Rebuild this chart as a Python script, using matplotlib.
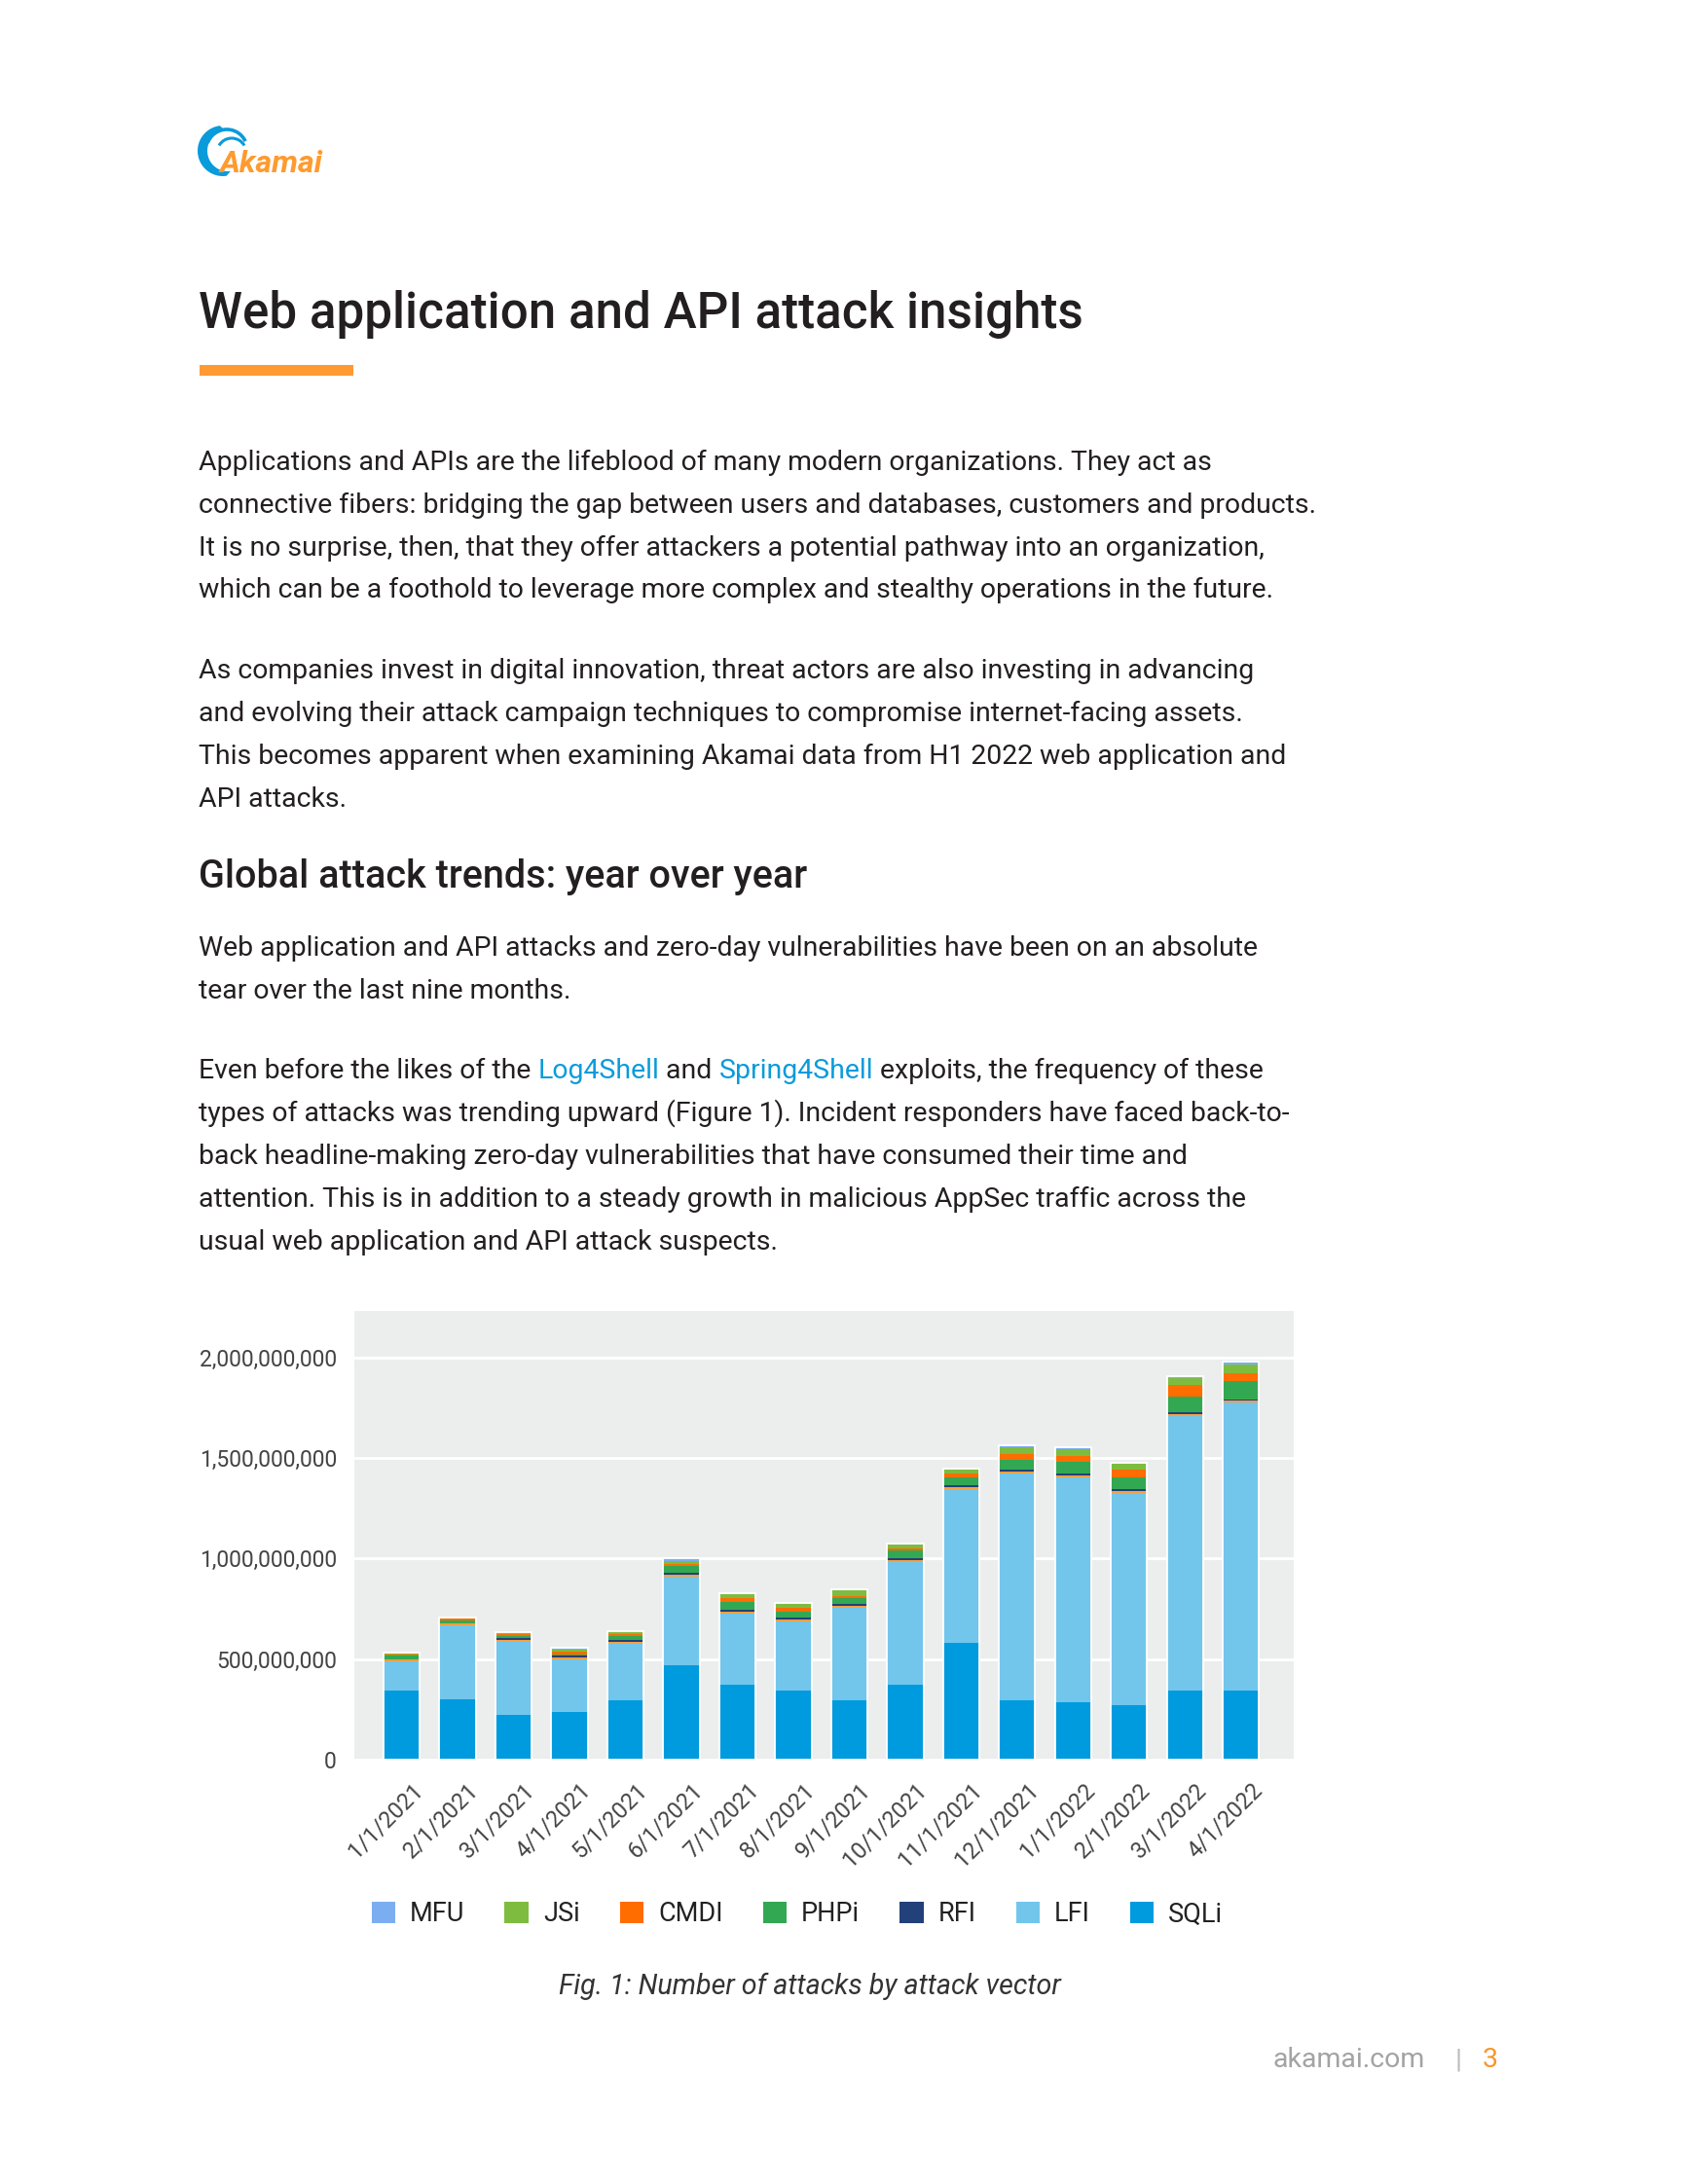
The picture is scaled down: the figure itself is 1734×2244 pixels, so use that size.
import matplotlib
matplotlib.use('Agg')
import matplotlib.pyplot as plt
import numpy as np
from matplotlib.ticker import FuncFormatter
from matplotlib.patches import Polygon, Arc
from matplotlib.transforms import ScaledTranslation

plt.rcParams['font.family'] = ['Roboto', 'DejaVu Sans']

# ---------------- data (values in millions of attacks) ----------------
dates = ['1/1/2021', '2/1/2021', '3/1/2021', '4/1/2021', '5/1/2021', '6/1/2021',
         '7/1/2021', '8/1/2021', '9/1/2021', '10/1/2021', '11/1/2021', '12/1/2021',
         '1/1/2022', '2/1/2022', '3/1/2022', '4/1/2022']
sqli  = [344, 300, 223, 237, 296, 470, 373, 344, 296, 373, 582, 296, 284, 270, 344, 344]
lfi   = [145, 370, 363, 261, 281, 441, 354, 344, 460, 609, 765, 1129, 1121, 1058, 1365, 1433]
other = [8, 8, 10, 8, 9, 10, 10, 10, 8, 10, 10, 10, 10, 10, 10, 10]
rfi   = [2, 2, 10, 11, 10, 9, 9, 10, 10, 10, 10, 9, 10, 9, 10, 4]
phpi  = [20, 10, 8, 8, 18, 33, 38, 29, 30, 39, 39, 49, 58, 59, 77, 92]
cmdi  = [2, 12, 10, 11, 10, 11, 21, 19, 10, 9, 19, 29, 29, 38, 58, 39]
jsi   = [10, 2, 8, 13, 9, 16, 19, 18, 29, 21, 19, 32, 32, 29, 36, 43]
mfu   = [4, 1, 4, 10, 5, 12, 5, 5, 5, 5, 5, 11, 10, 5, 10, 14]

series_names  = ['SQLi', 'LFI', '_other', 'RFI', 'PHPi', 'CMDI', 'JSi', 'MFU']
series_values = [sqli, lfi, other, rfi, phpi, cmdi, jsi, mfu]
series_colors = ['#009BDE', '#72C6EC', '#F9A03F', '#22407A', '#33A853', '#FF6D00', '#7EBC3F', '#7BAEF0']
legend_order  = ['MFU', 'JSi', 'CMDI', 'PHPi', 'RFI', 'LFI', 'SQLi']
y_ticks = [0, 500e6, 1000e6, 1500e6, 2000e6]

# ---------------- page ----------------
W, H = 1734, 2244
fig = plt.figure(figsize=(W / 100, H / 100), dpi=100)
fig.patch.set_facecolor('white')
pax = fig.add_axes([0, 0, 1, 1], zorder=0)
pax.set_xlim(0, W)
pax.set_ylim(H, 0)
pax.axis('off')

TXT = '#231F20'
ORANGE = '#F7962B'
LINK = '#0A9BDB'

# logo: crescent swoosh
cx, cy = 229, 155
phi = np.radians(np.linspace(97, 278, 60))
outer = np.column_stack([cx + 26 * np.cos(phi), cy - 26 * np.sin(phi)])
phi_r = phi[::-1]
inner = np.column_stack([cx + 5 + 21 * np.cos(phi_r), cy - 21 * np.sin(phi_r)])
pax.add_patch(Polygon(np.vstack([outer, inner]), closed=True, facecolor='#0A9BDB', edgecolor='none'))
pax.add_patch(Arc((233, 154), 42, 42, theta1=-160, theta2=-25, color='#0A9BDB', lw=2.6))
pax.add_patch(Arc((238, 157), 30, 30, theta1=-150, theta2=-30, color='#0A9BDB', lw=2.2))
pax.text(226, 177, 'Akamai', fontsize=23, fontweight='bold', fontstyle='italic',
         color='#FF9A2E', va='baseline', ha='left')

# title
pax.text(204, 337, 'Web application and API attack insights', fontsize=36.8, fontweight='medium',
         color=TXT, va='baseline', ha='left')
pax.add_patch(plt.Rectangle((205, 375), 158, 11, facecolor='#FF9A33', edgecolor='none'))

BODY = 20.4
lines = [
    (483, "Applications and APIs are the lifeblood of many modern organizations. They act as"),
    (527, "connective fibers: bridging the gap between users and databases, customers and products."),
    (571, "It is no surprise, then, that they offer attackers a potential pathway into an organization,"),
    (614, "which can be a foothold to leverage more complex and stealthy operations in the future."),
    (697, "As companies invest in digital innovation, threat actors are also investing in advancing"),
    (741, "and evolving their attack campaign techniques to compromise internet-facing assets."),
    (785, "This becomes apparent when examining Akamai data from H1 2022 web application and"),
    (829, "API attacks."),
    (982, "Web application and API attacks and zero-day vulnerabilities have been on an absolute"),
    (1026, "tear over the last nine months."),
    (1152, "types of attacks was trending upward (Figure 1). Incident responders have faced back-to-"),
    (1196, "back headline-making zero-day vulnerabilities that have consumed their time and"),
    (1240, "attention. This is in addition to a steady growth in malicious AppSec traffic across the"),
    (1284, "usual web application and API attack suspects."),
]
for yb, s in lines:
    pax.text(204, yb, s, fontsize=BODY, color=TXT, va='baseline', ha='left')

pax.text(204, 912, 'Global attack trends: year over year', fontsize=28.5, fontweight='medium',
         color=TXT, va='baseline', ha='left')

# mixed colour line
renderer = fig.canvas.get_renderer()
pieces = [("Even before the likes of the ", TXT), ("Log4Shell", LINK), (" and ", TXT),
          ("Spring4Shell", LINK), (" exploits, the frequency of these", TXT)]
xpos = 204
for s, c in pieces:
    t = pax.text(xpos, 1108, s, fontsize=BODY, color=c, va='baseline', ha='left')
    bb = t.get_window_extent(renderer=renderer)
    xpos += bb.width

# caption
pax.text(832, 2049, 'Fig. 1: Number of attacks by attack vector', fontsize=20.6, fontstyle='italic',
         color='#333333', va='baseline', ha='center')

# footer
pax.text(1464, 2124, 'akamai.com', fontsize=20.5, color='#A3A3A3', va='baseline', ha='right')
pax.text(1498, 2124, '|', fontsize=20.5, color='#BDBDBD', va='baseline', ha='center')
pax.text(1523, 2124, '3', fontsize=20.5, color=ORANGE, va='baseline', ha='left')

# ---------------- chart ----------------
ax = fig.add_axes([364 / W, 1 - 1808 / H, (1329 - 364) / W, (1808 - 1347) / H], zorder=1)
ax.set_facecolor('#ECEEED')
x = np.arange(len(dates))
bw = 0.645
bottom = np.zeros(len(dates))
containers = {}
for name, vals, col in zip(series_names, series_values, series_colors):
    v = np.array(vals, dtype=float) * 1e6
    containers[name] = ax.bar(x, v, bw, bottom=bottom, color=col, edgecolor='none',
                              linewidth=0, zorder=2, label=name)
    bottom = bottom + v
ax.bar(x, bottom, bw, fill=False, edgecolor='white', linewidth=1.3, zorder=3)

ax.set_xlim(-0.843, 15.94)
ax.set_ylim(0, 2.232e9)
ax.set_yticks(y_ticks)
ax.yaxis.set_major_formatter(FuncFormatter(lambda v, p: f'{v:,.0f}'))
ax.grid(axis='y', color='white', linewidth=2.0)
ax.set_axisbelow(True)
for sp in ax.spines.values():
    sp.set_visible(False)
ax.tick_params(axis='y', length=0, pad=13, labelsize=16.5, labelcolor='#444444')
ax.tick_params(axis='x', length=0, pad=14, labelsize=16.8, labelcolor='#444444')
ax.set_xticks(x)
ax.set_xticklabels(dates, rotation=45, ha='right', rotation_mode='anchor')
off = ScaledTranslation(10 / 100, 0, fig.dpi_scale_trans)
for lab in ax.get_xticklabels():
    lab.set_transform(lab.get_transform() + off)

handles = [containers[n] for n in legend_order]
leg = ax.legend(handles, legend_order, ncol=7, loc='center',
                bbox_to_anchor=(819 / W, 1 - 1967 / H), bbox_transform=fig.transFigure,
                frameon=False, fontsize=19.5, handlelength=0.9, handleheight=0.9,
                handletextpad=0.55, columnspacing=1.52, borderpad=0, borderaxespad=0)
for t in leg.get_texts():
    t.set_color('#222222')

fig.savefig('out.png', dpi=100, facecolor='white')
